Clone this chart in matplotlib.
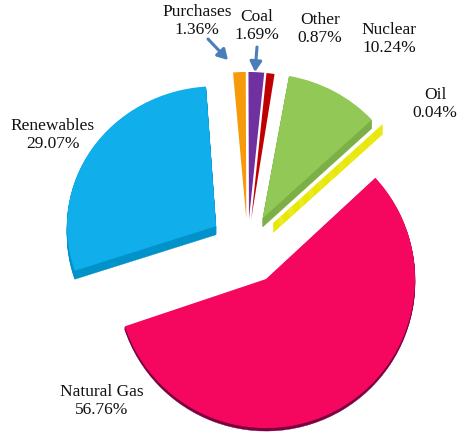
import matplotlib
matplotlib.use("Agg")
import matplotlib.pyplot as plt
from matplotlib.patches import Wedge
from matplotlib.transforms import Affine2D

categories = ["Natural Gas", "Renewables", "Purchases", "Coal", "Other", "Nuclear", "Oil"]
shares = [56.76, 29.07, 1.36, 1.69, 0.87, 10.24, 0.04]

face_colors = ["#F5075F", "#10AEEB", "#F79A0A", "#7030A0", "#C00000", "#92C855", "#E8E800"]
side_colors = ["#7A0040", "#0092C8", "#B87508", "#55247A", "#900000", "#7DAF47", "#E8E800"]
explode = [0.25, 0.25, 0.19, 0.19, 0.19, 0.22, 0.24]
depths = [3, 9, 0, 0, 0, 9, 10]
squash = [1.0, 0.94, 0.985, 0.985, 0.985, 0.97, 0.97]
turn = [0, 0, 1.2, 1.2, 1.2, 0, 0]
label_px = [(102, 401), (53, 135), (197, 21), (257, 26), (320, 29), (389, 39), (435, 104)]

W, H = 466, 434
CX, CY, R = 247, 247, 149


def px(x, y):
    return ((x - CX) / R, (CY - y) / R)


plt.rcParams["font.family"] = ["Liberation Serif", "DejaVu Serif"]
fig = plt.figure(figsize=(W / 100, H / 100), dpi=100)
ax = fig.add_axes([0, 0, 1, 1])

wedges, _ = ax.pie(shares, colors=face_colors, explode=explode, startangle=42.8,
                   counterclock=False, radius=1.0, wedgeprops={"linewidth": 0, "zorder": 5})

for w, side, depth, sq, rot in zip(wedges, side_colors, depths, squash, turn):
    w.set_theta1(w.theta1 + rot)
    w.set_theta2(w.theta2 + rot)
    cy = w.center[1]
    tilt = Affine2D().translate(0, -cy).scale(1, sq).translate(0, cy) + ax.transData
    w.set_transform(tilt)
    for d in range(1, depth + 1):
        ax.add_patch(Wedge((w.center[0], cy - d / R), w.r, w.theta1, w.theta2,
                           facecolor=side, edgecolor=side, linewidth=0.3, zorder=3,
                           transform=tilt))

for name, share, pos in zip(categories, shares, label_px):
    ax.text(*px(*pos), f"{name}\n{share:.2f}%", ha="center", va="center",
            fontsize=12.5, color="#111111", linespacing=1.22, zorder=8)

for start, end in [((208, 39), (228, 60)), ((257, 47), (255, 72))]:
    ax.annotate("", xy=px(*end), xytext=px(*start), zorder=9,
                arrowprops=dict(arrowstyle="-|>,head_width=0.35,head_length=0.6",
                                color="#4A7EBB", lw=2.2, shrinkA=0, shrinkB=0))

ax.set_xlim((0 - CX) / R, (W - CX) / R)
ax.set_ylim((CY - H) / R, CY / R)
ax.set_aspect("equal")
ax.axis("off")
fig.savefig("out.png", dpi=100, facecolor="white")
